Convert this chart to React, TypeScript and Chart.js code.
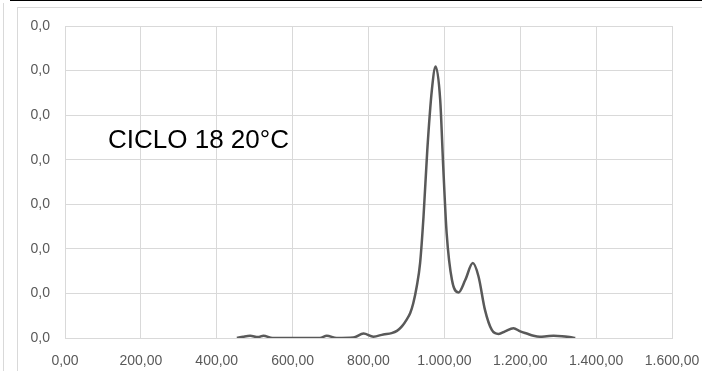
import React, { useEffect, useRef } from "react";
import { Chart, registerables } from "chart.js";

Chart.register(...registerables);

// ---- data ----
const xValues = [
  453, 470, 488, 509, 523, 547, 600, 650, 672, 690, 716, 760, 787, 813, 839, 861,
  875, 888, 901, 910, 918, 927, 936, 945, 955, 967, 977, 989, 997, 1006, 1020,
  1037, 1055, 1075, 1090, 1107, 1125, 1143, 1160, 1182, 1200, 1217, 1235, 1252,
  1270, 1288, 1310, 1330, 1345,
];
const yValues = [
  0, 0.00015, 0.00025, 0.0001, 0.00025, 0, 0, 0, 0, 0.00025, 0, 0.00005, 0.0005,
  0.00015, 0.0004, 0.00055, 0.0008, 0.0013, 0.0021, 0.0028, 0.0039, 0.00575,
  0.0084, 0.0136, 0.0211, 0.0278, 0.03045, 0.0267, 0.0192, 0.01175, 0.0065,
  0.0051, 0.0065, 0.0084, 0.0069, 0.00315, 0.0009, 0.00045, 0.00075, 0.0011,
  0.00075, 0.0005, 0.00025, 0.00015, 0.0002, 0.00025, 0.0002, 0.0001, 0,
];
const X_MIN = 0;
const X_MAX = 1600;
const X_STEP = 200;
const Y_MIN = 0;
const Y_MAX = 0.035;
const Y_STEP = 0.005;
const annotationText = "CICLO 18 20°C";

function fmtX(v: number): string {
  const [i, d] = v.toFixed(2).split(".");
  return i.replace(/\B(?=(\d{3})+(?!\d))/g, ".") + "," + d;
}
function fmtY(v: number): string {
  return v.toFixed(1).replace(".", ",");
}

const FONT = "'Liberation Sans', Arial, sans-serif";
const GRID = "#d9d9d9";
const LABEL = "#595959";

export default function App() {
  const ref = useRef<HTMLCanvasElement | null>(null);

  useEffect(() => {
    if (!ref.current) return;
    const chart = new Chart(ref.current, {
      type: "scatter",
      data: {
        datasets: [
          {
            data: xValues.map((x, i) => ({ x, y: yValues[i] })),
            showLine: true,
            borderColor: "#595959",
            borderWidth: 2.5,
            pointRadius: 0,
            cubicInterpolationMode: "monotone",
            fill: false,
          } as any,
        ],
      },
      options: {
        responsive: false,
        animation: false,
        layout: { padding: { left: 0, right: 30, top: 26, bottom: 0 } },
        plugins: { legend: { display: false }, tooltip: { enabled: false } },
        scales: {
          x: {
            type: "linear",
            min: X_MIN,
            max: X_MAX,
            ticks: {
              stepSize: X_STEP,
              callback: (v: any) => fmtX(Number(v)),
              color: LABEL,
              font: { family: FONT, size: 14 },
              padding: 15,
              maxRotation: 0,
              autoSkip: false,
            },
            grid: { color: GRID, drawTicks: false, lineWidth: 1 },
            border: { color: GRID },
            afterFit: (s: any) => {
              s.height = 33;
              s.paddingLeft = 0;
              s.paddingRight = 0;
            },
          },
          y: {
            type: "linear",
            min: Y_MIN,
            max: Y_MAX,
            ticks: {
              stepSize: Y_STEP,
              callback: (v: any) => fmtY(Number(v)),
              color: LABEL,
              font: { family: FONT, size: 14 },
              padding: 15,
              autoSkip: false,
            },
            grid: { color: GRID, drawTicks: false, lineWidth: 1 },
            border: { color: GRID },
            afterFit: (s: any) => {
              s.width = 65;
              s.paddingTop = 0;
              s.paddingBottom = 0;
            },
          },
        },
      },
    });
    return () => chart.destroy();
  }, []);

  return (
    <div
      style={{
        position: "fixed",
        left: 0,
        top: 0,
        width: 702,
        height: 371,
        background: "#fff",
        overflow: "hidden",
      }}
    >
      <div style={{ position: "absolute", left: 10, top: 0, width: 692, height: 1, background: "#000" }} />
      <div style={{ position: "absolute", left: 3, top: 3, width: 1, height: 368, background: GRID }} />
      <div style={{ position: "absolute", left: 17, top: 7, width: 1, height: 364, background: GRID }} />
      <div style={{ position: "absolute", left: 17, top: 7, width: 685, height: 1, background: GRID }} />
      <canvas ref={ref} width={702} height={371} style={{ position: "absolute", left: 0, top: 0 }} />
      <div
        style={{
          position: "absolute",
          left: 108,
          top: 126,
          fontFamily: FONT,
          fontSize: 26,
          lineHeight: "26px",
          color: "#000",
          whiteSpace: "nowrap",
        }}
      >
        {annotationText}
      </div>
    </div>
  );
}
